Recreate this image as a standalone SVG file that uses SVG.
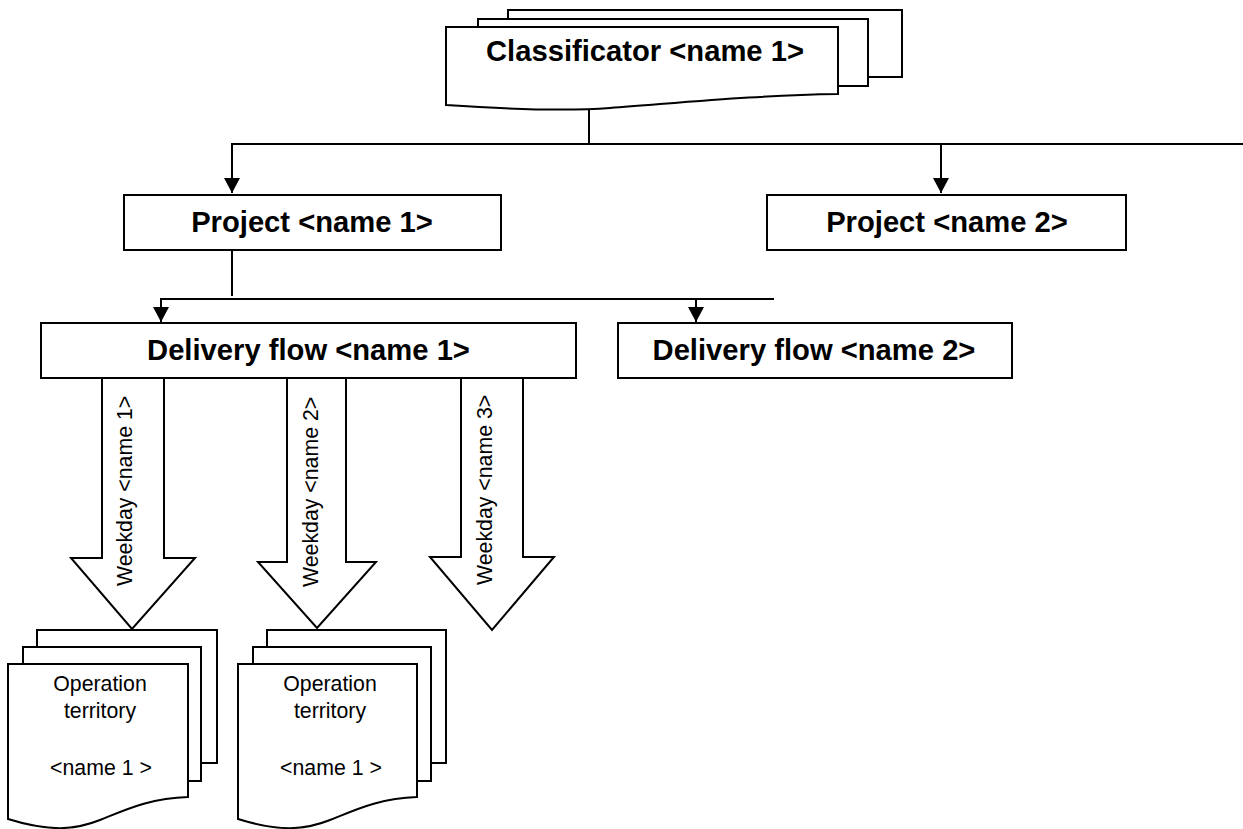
<svg xmlns="http://www.w3.org/2000/svg" width="1243" height="829" viewBox="0 0 1243 829">
<style>
.s{fill:#fff;stroke:#000;stroke-width:2}
.l{fill:none;stroke:#000;stroke-width:2}
.h{font:bold 29.2px "Liberation Sans",Arial,sans-serif;text-anchor:middle;fill:#000}
.t{font:21.3px "Liberation Sans",Arial,sans-serif;text-anchor:middle;fill:#000}
.r{text-anchor:start}
</style>
<defs><marker id="a" markerUnits="userSpaceOnUse" markerWidth="16" markerHeight="16" refX="15" refY="8" orient="auto"><path d="M0,0L15,8L0,16Z"/></marker></defs>
<rect width="1243" height="829" fill="#fff"/>
<g id="connectors">
<path class="l" d="M589,110V144"/>
<path class="l" d="M231,144H1243"/>
<path class="l" d="M232,144V193" marker-end="url(#a)"/>
<path class="l" d="M941,144V193" marker-end="url(#a)"/>
<path class="l" d="M232,250V296"/>
<path class="l" d="M160,299H774"/>
<path class="l" d="M161,299V322" marker-end="url(#a)"/>
<path class="l" d="M696,299V322" marker-end="url(#a)"/>
</g>
<g id="classificator">
<rect class="s" x="508" y="10" width="394" height="67"/>
<rect class="s" x="478" y="19" width="390" height="67"/>
<path class="s" d="M446,27H838V94C760,95 690,102 610,108C570,111 520,110 446,105Z"/>
<text class="h" x="645" y="61">Classificator &lt;name 1&gt;</text>
</g>
<g id="project1"><rect class="s" x="124" y="195" width="377" height="55"/><text class="h" x="312" y="232">Project &lt;name 1&gt;</text></g>
<g id="project2"><rect class="s" x="767" y="195" width="359" height="55"/><text class="h" x="947" y="232">Project &lt;name 2&gt;</text></g>
<g id="flow1"><rect class="s" x="41" y="323" width="535" height="55"/><text class="h" x="308.500" y="360">Delivery flow &lt;name 1&gt;</text></g>
<g id="flow2"><rect class="s" x="618" y="323" width="394" height="55"/><text class="h" x="814" y="360">Delivery flow &lt;name 2&gt;</text></g>
<g id="weekday1"><path class="s" d="M102,378V558H71L132,629L195,558H164V378Z"/><text class="t r" transform="translate(132 586) rotate(-90)">Weekday &lt;name 1&gt;</text></g>
<g id="weekday2"><path class="s" d="M287,378V562H258L317,628L376,562H346V378Z"/><text class="t r" transform="translate(318 587) rotate(-90)">Weekday &lt;name 2&gt;</text></g>
<g id="weekday3"><path class="s" d="M461,378V557H430L492,630L554,557H523V378Z"/><text class="t r" transform="translate(492 585) rotate(-90)">Weekday &lt;name 3&gt;</text></g>
<g id="territory1">
<rect class="s" x="37" y="630" width="180" height="133"/>
<rect class="s" x="23" y="647" width="178" height="134"/>
<path class="s" d="M8,664H188V797C150,798 125,810 100,820C75,830 50,832 8,819Z"/>
<text class="t" x="100" y="691">Operation</text><text class="t" x="100" y="718">territory</text><text class="t" x="101" y="775">&lt;name 1 &gt;</text>
</g>
<g id="territory2">
<rect class="s" x="267" y="630" width="179" height="133"/>
<rect class="s" x="253" y="647" width="178" height="134"/>
<path class="s" d="M238,664H417V797C380,798 355,810 330,820C305,830 280,832 238,819Z"/>
<text class="t" x="330" y="691">Operation</text><text class="t" x="330" y="718">territory</text><text class="t" x="331" y="775">&lt;name 1 &gt;</text>
</g>
</svg>
